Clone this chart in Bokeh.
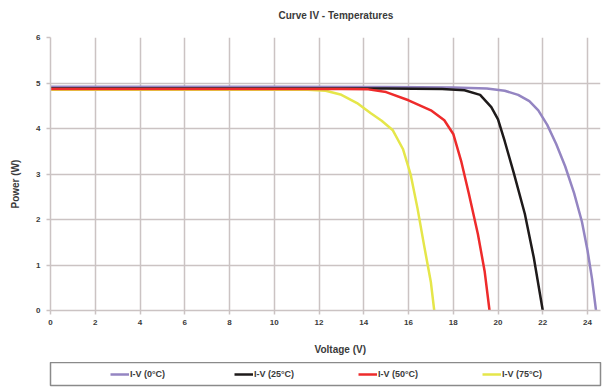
from bokeh.plotting import figure
from bokeh.models import Legend, LegendItem, Title, FixedTicker, Range1d
from bokeh.layouts import column
from bokeh.embed import file_html
from bokeh.resources import INLINE

# ---- data ----
v_0c = [0, 10, 15, 18, 19.5, 20.3, 20.9, 21.4, 21.8, 22.2, 22.6, 23.0, 23.4, 23.75, 24.0, 24.2, 24.38]
p_0c = [4.92, 4.92, 4.91, 4.90, 4.88, 4.83, 4.74, 4.60, 4.40, 4.08, 3.66, 3.17, 2.58, 1.95, 1.32, 0.70, 0.0]

v_25c = [0, 10, 15, 17.5, 18.5, 19.2, 19.7, 20.0, 20.3, 20.7, 21.2, 21.6, 22.0]
p_25c = [4.88, 4.88, 4.88, 4.87, 4.84, 4.74, 4.47, 4.20, 3.72, 3.03, 2.12, 1.16, 0.0]

v_50c = [0, 10, 13, 14.2, 15.0, 16.0, 17.0, 17.6, 18.0, 18.35, 18.7, 19.1, 19.4, 19.62]
p_50c = [4.87, 4.87, 4.87, 4.86, 4.80, 4.62, 4.40, 4.18, 3.88, 3.29, 2.56, 1.68, 0.87, 0.0]

v_75c = [0, 10, 11.5, 12.3, 13.0, 13.7, 14.3, 14.8, 15.3, 15.75, 16.1, 16.4, 16.7, 17.0, 17.15]
p_75c = [4.85, 4.85, 4.85, 4.83, 4.74, 4.56, 4.34, 4.17, 3.96, 3.55, 2.98, 2.25, 1.42, 0.62, 0.0]

series_labels = ["I-V (0°C)", "I-V (25°C)", "I-V (50°C)", "I-V (75°C)"]
x_ticks = [0, 2, 4, 6, 8, 10, 12, 14, 16, 18, 20, 22, 24]
y_ticks = [0, 1, 2, 3, 4, 5, 6]
title_text = "Curve IV - Temperatures"
x_label = "Voltage (V)"
y_label = "Power (W)"

FONT = "Liberation Sans"
TXT = "#3a3a3a"
GRID = "#cbc3c3"
colors = ["#9485c2", "#1e1a1a", "#ee2b2b", "#e5e64a"]
series_v = [v_0c, v_25c, v_50c, v_75c]
series_p = [p_0c, p_25c, p_50c, p_75c]

# ---- main chart ----
p = figure(width=609, height=362, output_backend="svg", toolbar_location=None,
           x_range=Range1d(0, 24.58), y_range=Range1d(0, 6),
           min_border_left=48, min_border_right=9, min_border_top=37, min_border_bottom=52)
p.outline_line_color = None
p.background_fill_color = "white"
p.border_fill_color = "white"

for ax in (p.xaxis[0], p.yaxis[0]):
    ax.axis_line_color = GRID
    ax.axis_line_width = 1.5
    ax.major_tick_line_color = GRID
    ax.major_tick_line_width = 1.5
    ax.major_tick_out = 4
    ax.major_tick_in = 0
    ax.minor_tick_line_color = None
    ax.major_label_text_font = FONT
    ax.major_label_text_font_style = "bold"
    ax.major_label_text_font_size = "8px"
    ax.major_label_text_color = TXT
p.xaxis.ticker = FixedTicker(ticks=x_ticks)
p.yaxis.ticker = FixedTicker(ticks=y_ticks)
p.xaxis.major_label_standoff = 5
p.yaxis.major_label_standoff = 6

p.xgrid.ticker = FixedTicker(ticks=x_ticks)
p.ygrid.ticker = FixedTicker(ticks=y_ticks)
p.grid.grid_line_color = GRID
p.grid.grid_line_width = 1.5

order = [0, 1, 3, 2]
for i in order:
    p.line(series_v[i], series_p[i], line_color=colors[i], line_width=2.5)

# title
p.title.text = title_text
p.title.align = "left"
p.title.offset = 228
p.title.text_font = FONT
p.title.text_font_style = "bold"
p.title.text_font_size = "10px"
p.title.text_color = TXT
p.title.standoff = 2
p.title.padding = dict(left=0, right=0, top=0, bottom=16)

# x label
p.add_layout(Title(text=x_label, align="left", offset=264, text_font=FONT,
                   text_font_style="bold", text_font_size="10px", text_color=TXT,
                   standoff=8, padding=dict(left=0, right=0, top=10, bottom=0)), "below")
# y label
p.add_layout(Title(text=y_label, align="left", offset=102, text_font=FONT,
                   text_font_style="bold", text_font_size="10px", text_color=TXT,
                   standoff=8, padding=dict(left=0, right=0, top=0, bottom=9)), "left")

# ---- legend strip (frame = legend box) ----
lg = figure(width=609, height=25, output_backend="svg", toolbar_location=None,
            x_range=Range1d(100, 101), y_range=Range1d(100, 101),
            x_axis_type=None, y_axis_type=None,
            min_border_left=50, min_border_right=3, min_border_top=0, min_border_bottom=2)
lg.grid.visible = False
lg.outline_line_color = "#8a8a8a"
lg.outline_line_width = 1.5
lg.border_fill_color = "white"

items = []
for lab, col, vv, pp in zip(series_labels, colors, series_v, series_p):
    rr = lg.line(vv, pp, line_color=col, line_width=2.5)
    items.append(LegendItem(label=lab, renderers=[rr]))

legend = Legend(items=items, orientation="horizontal", location=(60, 4),
                glyph_width=19, glyph_height=14, label_width=101, label_standoff=1,
                label_height=14, spacing=3, padding=0, margin=0,
                border_line_color=None, background_fill_alpha=0,
                label_text_font=FONT, label_text_font_style="bold",
                label_text_font_size="9px", label_text_color=TXT)
lg.add_layout(legend, "center")

layout = column(p, lg, spacing=0)
open("out.html", "w").write(file_html(layout, INLINE))
